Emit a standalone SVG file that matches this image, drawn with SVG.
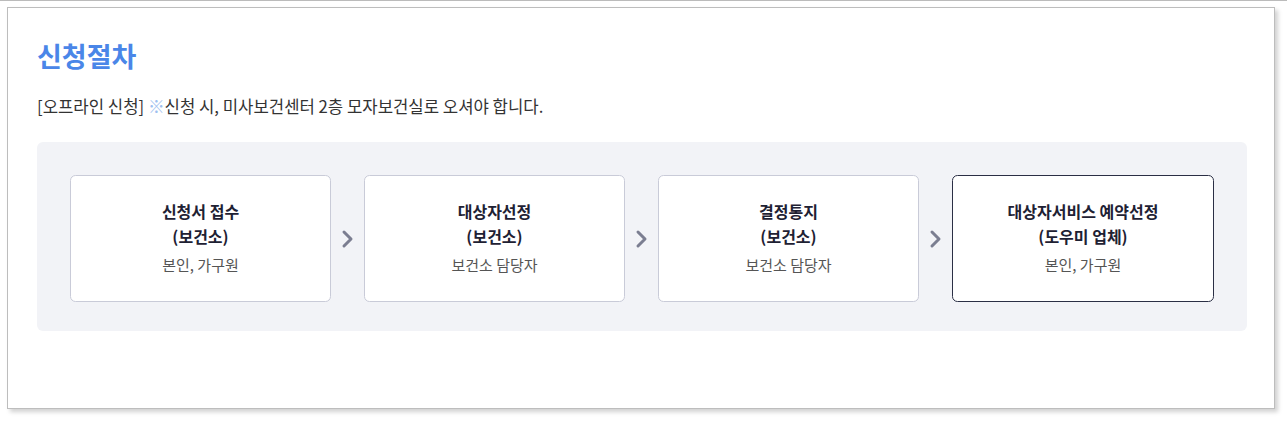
<svg xmlns="http://www.w3.org/2000/svg" width="1287" height="421" viewBox="0 0 1287 421">
<defs>
<style>
.t{font-family:"Noto Sans CJK KR","Noto Sans",sans-serif;text-anchor:middle}
.b{font-size:16px;font-weight:700;fill:#1e2133}
.s{font-size:15px;font-weight:400;fill:#555}
.box{fill:#fff;stroke:#c9cbd8;stroke-width:1}
.chev{fill:none;stroke:#7b7e91;stroke-width:3;stroke-linecap:round;stroke-linejoin:round}
</style>
<filter id="sh" x="-2%" y="-2%" width="104%" height="106%">
<feDropShadow dx="3" dy="3" stdDeviation="2" flood-color="#000" flood-opacity="0.18"/>
</filter>
</defs>
<rect width="1287" height="421" fill="#fff"/>
<line x1="0" y1="0.5" x2="1287" y2="0.5" stroke="#bbb"/>
<rect x="7.5" y="7.5" width="1267" height="401" fill="#fff" stroke="#bdbdbd" filter="url(#sh)"/>
<text x="37" y="67" font-family="Noto Sans CJK KR,sans-serif" font-size="27" font-weight="700" fill="#4a86e8">신청절차</text>
<text x="37" y="113" font-family="Noto Sans CJK KR,sans-serif" font-size="16.7" fill="#333">[오프라인 신청] <tspan fill="#9ec0f0">※</tspan>신청 시, 미사보건센터 2층 모자보건실로 오셔야 합니다.</text>
<rect x="37" y="142" width="1210" height="189" rx="6" fill="#f2f3f7"/>
<g id="connectors">
<polyline class="chev" points="344,232 351,239 344,246"/>
<polyline class="chev" points="638,232 645,239 638,246"/>
<polyline class="chev" points="932,232 939,239 932,246"/>
</g>
<g id="node1">
<rect class="box" x="70.5" y="175.5" width="260" height="126" rx="5"/>
<text class="t b" x="200.5" y="218">신청서 접수</text>
<text class="t b" x="200.5" y="243">(보건소)</text>
<text class="t s" x="200.5" y="271">본인, 가구원</text>
</g>
<g id="node2">
<rect class="box" x="364.5" y="175.5" width="260" height="126" rx="5"/>
<text class="t b" x="494.5" y="218">대상자선정</text>
<text class="t b" x="494.5" y="243">(보건소)</text>
<text class="t s" x="494.5" y="271">보건소 담당자</text>
</g>
<g id="node3">
<rect class="box" x="658.5" y="175.5" width="260" height="126" rx="5"/>
<text class="t b" x="788.5" y="218">결정통지</text>
<text class="t b" x="788.5" y="243">(보건소)</text>
<text class="t s" x="788.5" y="271">보건소 담당자</text>
</g>
<g id="node4">
<rect class="box" x="952.5" y="175.5" width="261" height="126" rx="5" style="stroke:#2b2f45"/>
<text class="t b" x="1083" y="218">대상자서비스 예약선정</text>
<text class="t b" x="1083" y="243">(도우미 업체)</text>
<text class="t s" x="1083" y="271">본인, 가구원</text>
</g>
</svg>
